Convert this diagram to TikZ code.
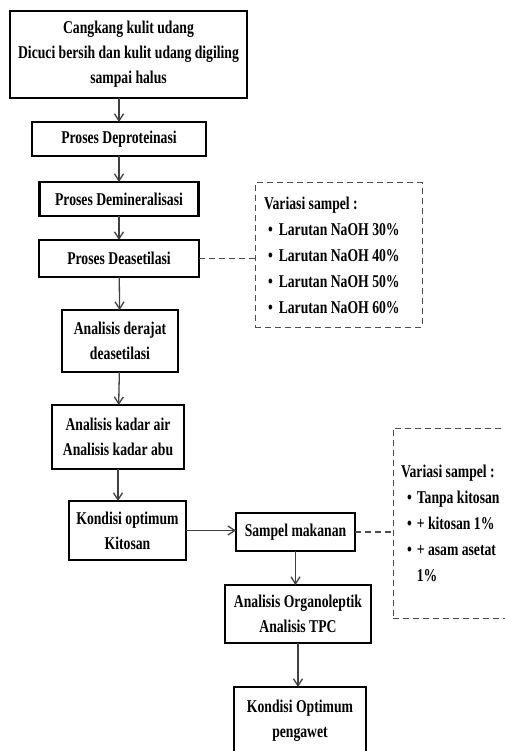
\documentclass[tikz,border=0pt]{standalone}
\usepackage{fontspec}
\setmainfont{Liberation Serif}[FakeStretch=0.76]
\usetikzlibrary{arrows.meta, positioning}

\begin{document}
\begin{tikzpicture}[node distance=24pt, >={Straight Barb[length=7pt,width=9pt]}]

        % --- styles ---
        \tikzstyle{proc} = [rectangle, draw=black, line width=2.4pt, inner sep=0pt, outer sep=0pt, align=center, font=\fontsize{18}{25}\selectfont\bfseries]
        \tikzstyle{variasi} = [rectangle, draw=black!70, line width=1pt, dash pattern=on 6pt off 4pt, inner ysep=0pt, outer sep=0pt, align=flush left, font=\fontsize{18}{26}\selectfont\bfseries]
        \tikzstyle{arrow} = [line width=1.3pt, draw=black!75, ->]
        \tikzstyle{garis} = [line width=1.1pt, draw=black!70, dash pattern=on 6pt off 4pt]

        \useasboundingbox (0,0) rectangle (505pt,-751pt);
        \clip (0,0) rectangle (505pt,-751pt);

        % --- chitosan line ---
        \node (cangkang) [proc, minimum width=237pt, minimum height=87pt] at (128.5pt,-54.5pt) {Cangkang kulit udang\\Dicuci bersih dan kulit udang digiling\\sampai halus};
        \node (deprot) [proc, below=24pt of cangkang, xshift=-9.5pt, minimum width=174pt, minimum height=34pt] {Proses Deproteinasi};
        \node (demin) [proc, below=26pt of deprot, minimum width=159pt, minimum height=34pt] {Proses Demineralisasi};
        \node (deaset) [proc, below=24pt of demin, minimum width=160pt, minimum height=37pt] {Proses Deasetilasi};
        \node (derajat) [proc, below=33pt of deaset, xshift=1pt, minimum width=116pt, minimum height=62pt] {Analisis derajat\\deasetilasi};
        \node (kadar) [proc, below=33pt of derajat, xshift=-2pt, minimum width=132pt, minimum height=64pt] {Analisis kadar air\\Analisis kadar abu};
        \node (optkit) [proc, below=32pt of kadar, xshift=9.5pt, minimum width=117pt, minimum height=59pt] {Kondisi optimum\\Kitosan};

        % --- variasi NaOH ---
        \node (var1) [variasi, right=56pt of deaset, yshift=3.5pt, minimum width=167pt, minimum height=144pt, inner xsep=9pt, text width=149pt] {Variasi sampel :\\
            \hspace*{4pt}\textbullet\hspace{6pt}Larutan NaOH 30\%\\
            \hspace*{4pt}\textbullet\hspace{6pt}Larutan NaOH 40\%\\
            \hspace*{4pt}\textbullet\hspace{6pt}Larutan NaOH 50\%\\
            \hspace*{4pt}\textbullet\hspace{6pt}Larutan NaOH 60\%};

        % --- food sample line ---
        \node (sampel) [proc, right=50pt of optkit, yshift=-1.5pt, minimum width=119pt, minimum height=38pt] {Sampel makanan};
        \node (organo) [proc, below=34pt of sampel, xshift=2.5pt, minimum width=146pt, minimum height=58pt] {Analisis Organoleptik\\Analisis TPC};
        \node (pengawet) [proc, below=44pt of organo, xshift=2pt, minimum width=132pt, minimum height=67pt] {Kondisi Optimum\\pengawet};

        % --- variasi kitosan ---
        \node (var2) [variasi, right=38pt of sampel, yshift=9pt, minimum width=124pt, minimum height=190pt, inner xsep=8pt, text width=108pt] {Variasi sampel :\\
            \hspace*{6pt}\textbullet\hspace{5pt}Tanpa kitosan\\
            \hspace*{6pt}\textbullet\hspace{5pt}+ kitosan 1\%\\
            \hspace*{6pt}\textbullet\hspace{5pt}+ asam asetat\\
            \hspace*{6pt}\phantom{\textbullet}\hspace{5pt}1\%};

        % --- connectors ---
        \draw[arrow] (cangkang.south -| deprot.north) -- (deprot.north);
        \draw[arrow] (deprot) -- (demin);
        \draw[arrow] (demin) -- (deaset);
        \draw[arrow] (deaset) -- (derajat);
        \draw[arrow] (derajat) -- (kadar);
        \draw[arrow] (kadar.south) -- (kadar.south |- optkit.north);
        \draw[arrow] (optkit.east) -- (optkit.east -| sampel.west);
        \draw[arrow] (sampel.south) -- (sampel.south |- organo.north);
        \draw[arrow] (organo.south) -- (organo.south |- pengawet.north);

        \draw[garis] (deaset.east) -- (deaset.east -| var1.west);
        \draw[garis] (sampel.east) -- (sampel.east -| var2.west);

\end{tikzpicture}
\end{document}
